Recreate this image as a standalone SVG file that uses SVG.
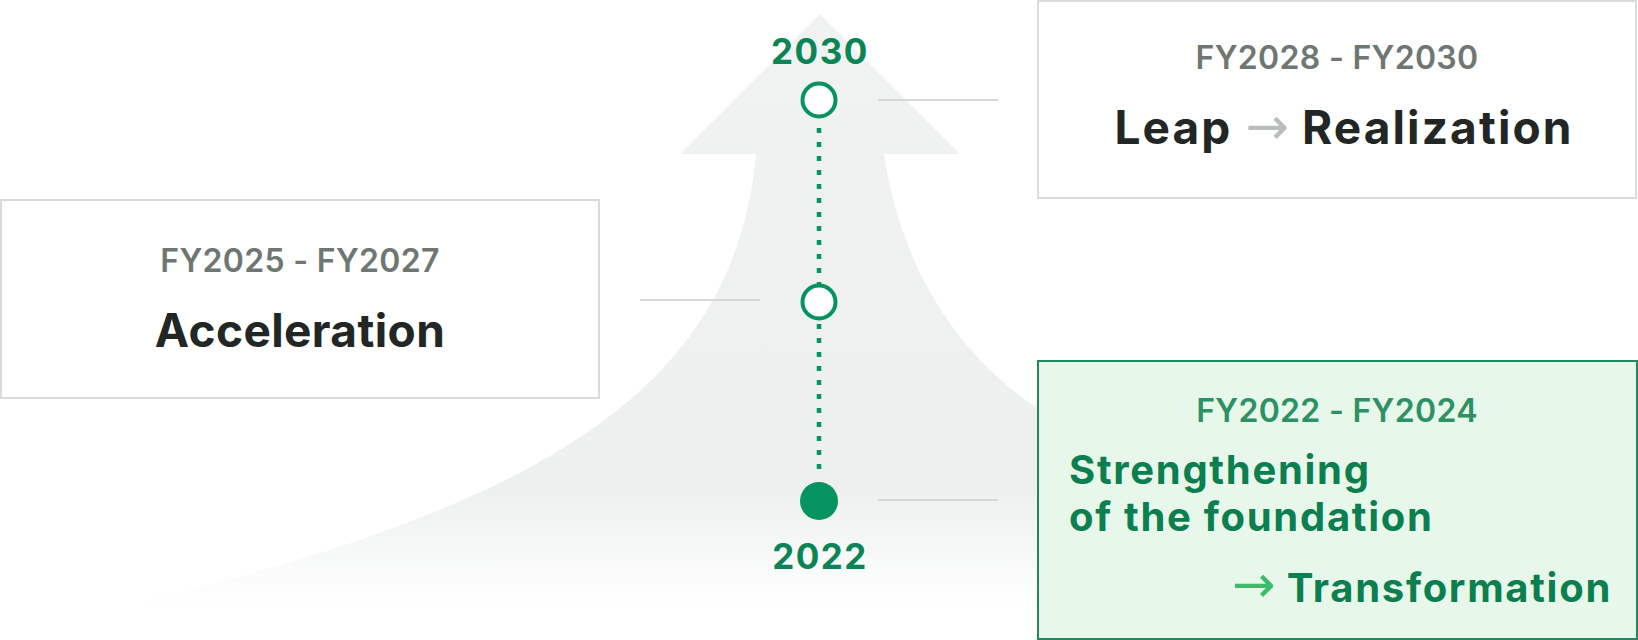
<svg xmlns="http://www.w3.org/2000/svg" width="1638" height="640" viewBox="0 0 1638 640">
  <style>
    .box { fill: #ffffff; stroke: #d9dcdb; stroke-width: 2; }
    .gbox { fill: #e7f7ea; stroke: #1d8a5c; stroke-width: 2; }
    .fy { font-family: Inter, "Liberation Sans", sans-serif; font-weight: 600; font-size: 32px; fill: #6f7773; text-anchor: middle; letter-spacing: 0.3px; }
    .title { font-family: Inter, "Liberation Sans", sans-serif; font-weight: 700; font-size: 46px; fill: #222625; text-anchor: middle; }
    .gtitle { font-family: Inter, "Liberation Sans", sans-serif; font-weight: 700; font-size: 40px; fill: #0b7f4f; letter-spacing: 1.7px; }
    .arrow { font-family: "DejaVu Sans", sans-serif; font-weight: 400; letter-spacing: 0; }
    .year { font-family: Inter, "Liberation Sans", sans-serif; font-weight: 700; font-size: 35px; fill: #0b8456; text-anchor: middle; letter-spacing: 1.5px; }
    .conn { stroke: #d6d8d7; stroke-width: 2; fill: none; }
    .dots { stroke: #05935f; stroke-width: 4.5; stroke-dasharray: 5 9; fill: none; }
    .ring { fill: #ffffff; stroke: #05935f; stroke-width: 4; }
  </style>
  <defs>
    <linearGradient id="bgfade" gradientUnits="userSpaceOnUse" x1="0" y1="0" x2="0" y2="640">
      <stop offset="0" stop-color="#f1f3f2"/>
      <stop offset="0.76" stop-color="#edf0ef"/>
      <stop offset="0.95" stop-color="#ffffff"/>
    </linearGradient>
  </defs>
  <rect width="1638" height="640" fill="#ffffff"/>

  <g id="background-arrow">
    <path d="M820 14 L960 154 L884 154 C900 260 950 350 1040 410 L1120 470 L1120 640 L120 640 L150 600 C560 500 735 380 756 154 L680 154 Z" fill="url(#bgfade)"/>
  </g>

  <g id="connectors">
    <line class="conn" x1="878" y1="100" x2="998" y2="100"/>
    <line class="conn" x1="640" y1="300" x2="760" y2="300"/>
    <line class="conn" x1="878" y1="500" x2="998" y2="500"/>
    <line class="dots" x1="819" y1="128" x2="819" y2="476"/>
  </g>

  <g id="node-2030">
    <text class="year" x="820" y="64">2030</text>
    <circle class="ring" cx="819" cy="100" r="16.5"/>
  </g>
  <g id="node-mid">
    <circle class="ring" cx="819" cy="302" r="16.5"/>
  </g>
  <g id="node-2022">
    <circle cx="819" cy="501" r="19" fill="#05935f"/>
    <text class="year" x="820" y="569">2022</text>
  </g>

  <g id="box-fy2028">
    <rect class="box" x="1038" y="1" width="598" height="197"/>
    <text class="fy" x="1337" y="69">FY2028 - FY2030</text>
    <text class="title" x="1344" y="144" font-size="50" letter-spacing="2.1">Leap <tspan class="arrow" font-size="52" fill="#b9bdbb">→</tspan> Realization</text>
  </g>

  <g id="box-fy2025">
    <rect class="box" x="1" y="200" width="598" height="198"/>
    <text class="fy" x="300" y="272">FY2025 - FY2027</text>
    <text class="title" x="300" y="347" font-size="44" letter-spacing="0.4">Acceleration</text>
  </g>

  <g id="box-fy2022">
    <rect class="gbox" x="1038" y="361" width="599" height="278"/>
    <text class="fy" x="1337" y="422" style="fill:#2e9163">FY2022 - FY2024</text>
    <text class="gtitle" x="1069" y="484">Strengthening</text>
    <text class="gtitle" x="1069" y="531">of the foundation</text>
    <text class="gtitle" x="1612" y="602" text-anchor="end" font-size="42" letter-spacing="1.5"><tspan class="arrow" font-size="52" fill="#3dbd6c">→</tspan> Transformation</text>
  </g>
</svg>
